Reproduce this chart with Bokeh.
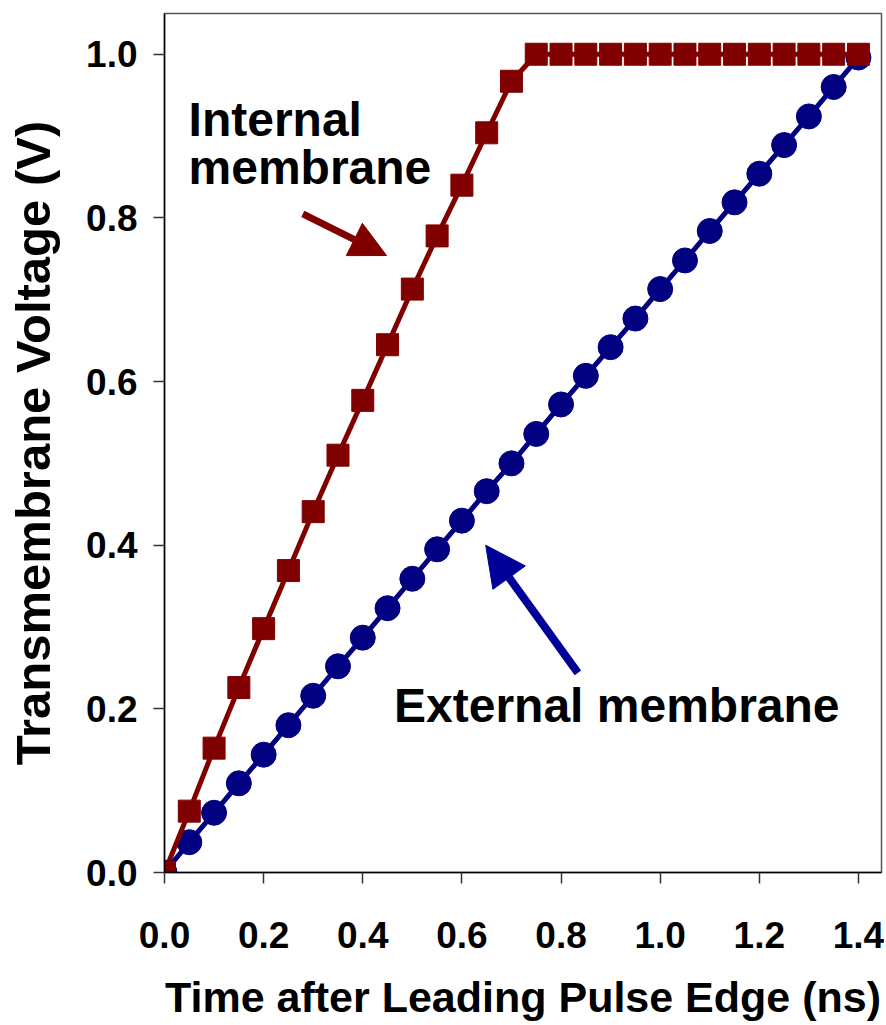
from bokeh.plotting import figure
from bokeh.models import Range1d, FixedTicker, Arrow, NormalHead, ColumnDataSource
from bokeh.core.properties import value
from bokeh.embed import file_html
from bokeh.resources import INLINE

# ---- data ----
time_ns = [0.00, 0.05, 0.10, 0.15, 0.20, 0.25, 0.30, 0.35, 0.40, 0.45,
           0.50, 0.55, 0.60, 0.65, 0.70, 0.75, 0.80, 0.85, 0.90, 0.95,
           1.00, 1.05, 1.10, 1.15, 1.20, 1.25, 1.30, 1.35, 1.40]
internal_v = [0.000, 0.075, 0.152, 0.226, 0.298, 0.369, 0.441, 0.510, 0.577, 0.645,
              0.713, 0.778, 0.840, 0.904, 0.967, 1.000, 1.000, 1.000, 1.000, 1.000,
              1.000, 1.000, 1.000, 1.000, 1.000, 1.000, 1.000, 1.000, 1.000]
external_v = [0.000, 0.037, 0.073, 0.109, 0.144, 0.180, 0.216, 0.252, 0.287, 0.323,
              0.359, 0.395, 0.430, 0.466, 0.500, 0.536, 0.572, 0.607, 0.642, 0.677,
              0.713, 0.748, 0.784, 0.819, 0.854, 0.889, 0.924, 0.960, 0.996]
x_ticks = [0.0, 0.2, 0.4, 0.6, 0.8, 1.0, 1.2, 1.4]
y_ticks = [0.0, 0.2, 0.4, 0.6, 0.8, 1.0]

x_label = "Time after Leading Pulse Edge (ns)"
y_label = "Transmembrane Voltage (V)"

# annotations (data units)
internal_lines = ["Internal", "membrane"]
internal_text_x = [0.0485, 0.0485]
internal_text_y = [0.920, 0.861]
external_lines = ["External membrane"]
external_text_x = [0.463]
external_text_y = [0.204]
internal_arrow = dict(x_start=0.279, y_start=0.805, x_end=0.448, y_end=0.754)
external_arrow = dict(x_start=0.834, y_start=0.244, x_end=0.648, y_end=0.400)

RED = "#800000"
BLUE = "#000080"
ARROW_BLUE = "#000099"
FONT = "Liberation Sans"

p = figure(width=884, height=1023, output_backend="svg", toolbar_location=None,
           x_range=Range1d(0, 1.4465), y_range=Range1d(0, 1.0498),
           min_border_left=164, min_border_right=3, min_border_top=13,
           min_border_bottom=145)

p.xgrid.visible = False
p.ygrid.visible = False
p.outline_line_color = "#555555"
p.outline_line_width = 1.5
p.background_fill_color = "white"
p.border_fill_color = "white"

for ax in (p.xaxis[0], p.yaxis[0]):
    ax.axis_line_color = "black"
    ax.axis_line_width = 1.5
    ax.major_tick_line_color = "#333333"
    ax.major_tick_line_width = 1.5
    ax.major_tick_in = 0
    ax.major_tick_out = 11
    ax.minor_tick_line_color = None
    ax.major_label_text_font = FONT
    ax.major_label_text_font_style = "bold"
    ax.major_label_text_font_size = "37px"
    ax.major_label_text_color = "black"
    ax.axis_label_text_font = FONT
    ax.axis_label_text_font_style = "bold"
    ax.axis_label_text_color = "black"

p.xaxis[0].ticker = FixedTicker(ticks=x_ticks)
p.yaxis[0].ticker = FixedTicker(ticks=y_ticks)
p.xaxis[0].major_label_overrides = {t: f"{t:.1f}" for t in x_ticks}
p.yaxis[0].major_label_overrides = {t: f"{t:.1f}" for t in y_ticks}
p.xaxis[0].axis_label = x_label
p.yaxis[0].axis_label = y_label
p.xaxis[0].axis_label_text_font_size = "43px"
p.yaxis[0].axis_label_text_font_size = "49px"
p.xaxis[0].major_label_standoff = 38
p.yaxis[0].major_label_standoff = 16
p.xaxis[0].axis_label_standoff = 22
p.yaxis[0].axis_label_standoff = 23

src = ColumnDataSource(dict(t=time_ns, vi=internal_v, ve=external_v))

# external membrane (navy circles)
p.line("t", "ve", source=src, line_color=BLUE, line_width=5)
p.scatter("t", "ve", source=src, marker="circle", size=25,
          fill_color=BLUE, line_color=BLUE)
# internal membrane (dark red squares)
p.line("t", "vi", source=src, line_color=RED, line_width=5)
p.scatter("t", "vi", source=src, marker="square", size=22,
          fill_color=RED, line_color=RED)

# annotation texts
p.text(x=internal_text_x, y=internal_text_y, text=internal_lines,
       text_font=value(FONT), text_font_style="bold", text_font_size="48px",
       text_color="black", text_baseline="alphabetic", text_align="left")
p.text(x=external_text_x, y=external_text_y, text=external_lines,
       text_font=value(FONT), text_font_style="bold", text_font_size="48px",
       text_color="black", text_baseline="alphabetic", text_align="left")

# arrows
p.add_layout(Arrow(end=NormalHead(size=36, fill_color=RED, line_color=RED),
                   line_color=RED, line_width=7, **internal_arrow))
p.add_layout(Arrow(end=NormalHead(size=40, fill_color=ARROW_BLUE, line_color=ARROW_BLUE),
                   line_color=ARROW_BLUE, line_width=8, **external_arrow))

open("out.html", "w").write(file_html(p, INLINE))
